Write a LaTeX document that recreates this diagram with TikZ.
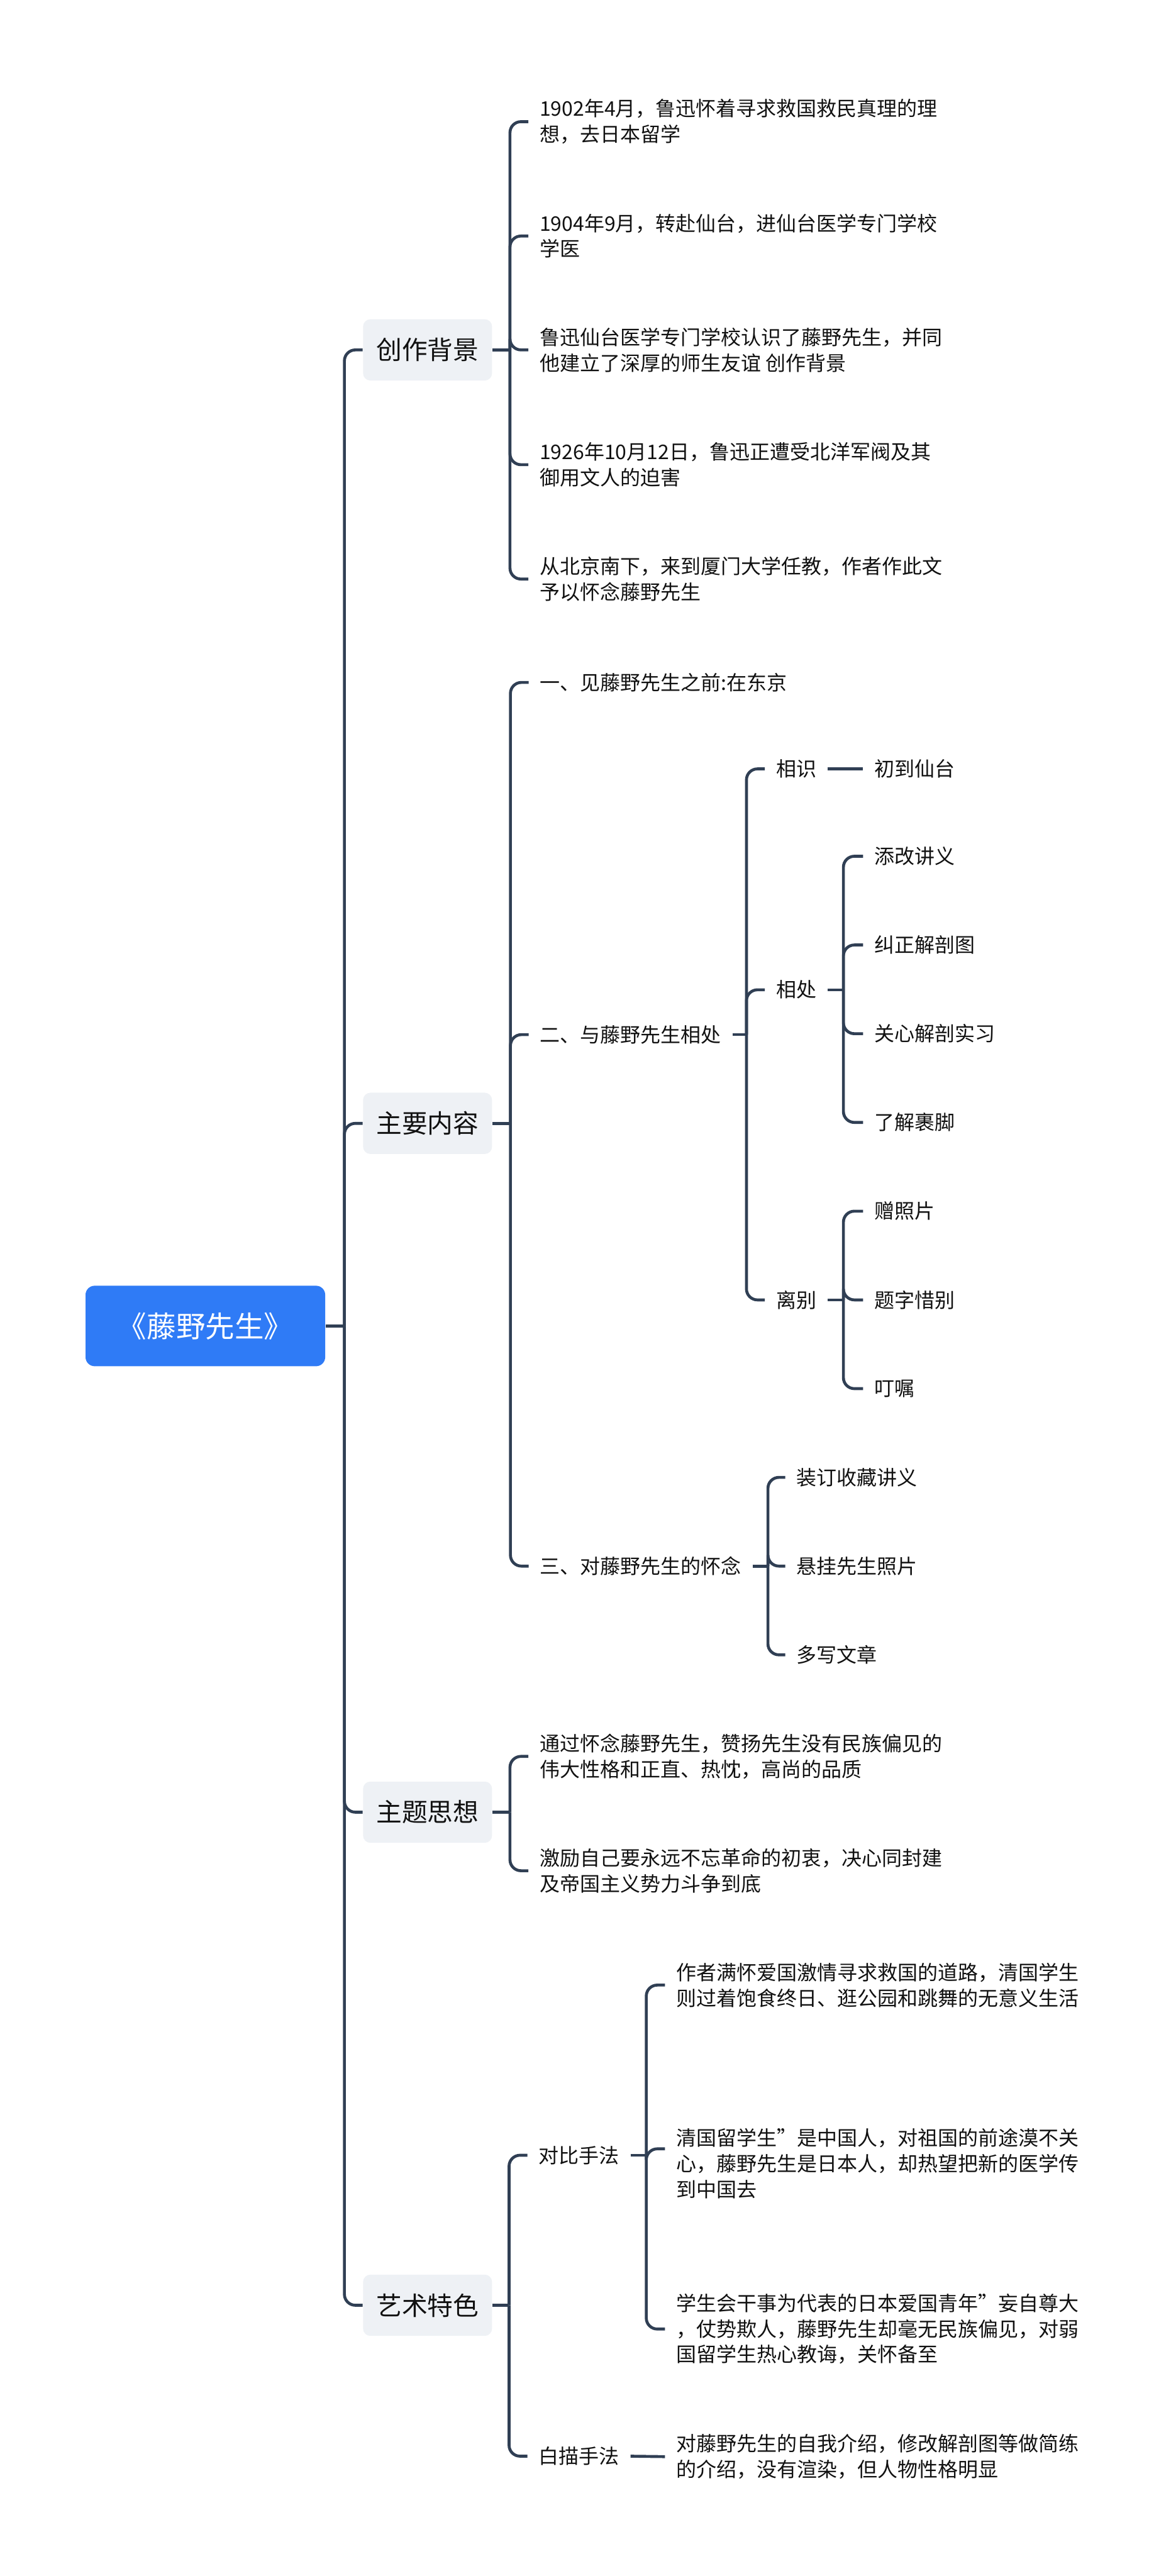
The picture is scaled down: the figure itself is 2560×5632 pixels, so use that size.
\documentclass[tikz,border=0pt]{standalone}
\usepackage{fontspec}
\setmainfont{Noto Sans CJK SC}
\definecolor{linec}{HTML}{303F54}
\definecolor{rootblue}{HTML}{2F7BF6}
\definecolor{catgrey}{HTML}{EEF1F5}
\definecolor{txt}{HTML}{111111}
\tikzset{
  conn/.style={draw=linec, line width=1.6pt, rounded corners=6pt},
  rootbox/.style={fill=rootblue, rounded corners=5pt, text=white, font=\fontsize{16pt}{20pt}\selectfont, minimum width=131pt, minimum height=44pt, inner sep=0pt},
  catbox/.style={fill=catgrey, rounded corners=4pt, text=txt, font=\fontsize{14pt}{17pt}\selectfont, minimum width=70.5pt, minimum height=33.5pt, inner sep=0pt, anchor=west},
  leaf/.style={text=txt, font=\fontsize{11pt}{14pt}\selectfont, align=left, inner xsep=6pt, inner ysep=2pt, anchor=west}
}
\begin{document}
\begin{tikzpicture}[x=0.25pt, y=-0.25pt]
\useasboundingbox (0,0) rectangle (2560,5632);
% root
\node[rootbox] (root) at (449,2899) {《藤野先生》};
\coordinate (J0) at (753,2899);
% level 1
\node[catbox] (b1) at (793,765) {创作背景};
\node[catbox] (b2) at (793,2456) {主要内容};
\node[catbox] (b3) at (793,3962) {主题思想};
\node[catbox] (b4) at (793,5040) {艺术特色};
\draw[conn] (root.east) -- (J0);
\foreach \b in {b1,b2,b3,b4} \draw[conn] (J0) |- (\b.west);
% 创作背景
\coordinate (j1) at (1115,765);
\node[leaf] (a1) at (1155,266) {1902年4月，鲁迅怀着寻求救国救民真理的理\\想，去日本留学};
\node[leaf] (a2) at (1155,516) {1904年9月，转赴仙台，进仙台医学专门学校\\学医};
\node[leaf] (a3) at (1155,765) {鲁迅仙台医学专门学校认识了藤野先生，并同\\他建立了深厚的师生友谊 创作背景};
\node[leaf] (a4) at (1155,1016) {1926年10月12日，鲁迅正遭受北洋军阀及其\\御用文人的迫害};
\node[leaf] (a5) at (1155,1266) {从北京南下，来到厦门大学任教，作者作此文\\予以怀念藤野先生};
\draw[conn] (b1.east) -- (j1);
\foreach \c in {a1,a2,a3,a4,a5} \draw[conn] (j1) |- (\c.west);
% 主要内容
\coordinate (j2) at (1116,2456);
\node[leaf] (c1) at (1156,1492) {一、见藤野先生之前:在东京};
\node[leaf] (c2) at (1156,2262) {二、与藤野先生相处};
\node[leaf] (c3) at (1156,3424) {三、对藤野先生的怀念};
\draw[conn] (b2.east) -- (j2);
\foreach \c in {c1,c2,c3} \draw[conn] (j2) |- (\c.west);
% 二
\coordinate (j3) at (1632,2262);
\node[leaf] (d1) at (1672,1681) {相识};
\node[leaf] (d2) at (1672,2164) {相处};
\node[leaf] (d3) at (1672,2842) {离别};
\draw[conn] (c2.east) -- (j3);
\foreach \c in {d1,d2,d3} \draw[conn] (j3) |- (\c.west);
\node[leaf] (e0) at (1887,1681) {初到仙台};
\draw[conn] (d1.east) -- (e0.west);
\coordinate (j4) at (1844,2164);
\node[leaf] (e1) at (1887,1872) {添改讲义};
\node[leaf] (e2) at (1887,2066) {纠正解剖图};
\node[leaf] (e3) at (1887,2260) {关心解剖实习};
\node[leaf] (e4) at (1887,2454) {了解裹脚};
\draw[conn] (d2.east) -- (j4);
\foreach \c in {e1,e2,e3,e4} \draw[conn] (j4) |- (\c.west);
\coordinate (j5) at (1844,2842);
\node[leaf] (e5) at (1887,2648) {赠照片};
\node[leaf] (e6) at (1887,2842) {题字惜别};
\node[leaf] (e7) at (1887,3036) {叮嘱};
\draw[conn] (d3.east) -- (j5);
\foreach \c in {e5,e6,e7} \draw[conn] (j5) |- (\c.west);
% 三
\coordinate (j6) at (1679,3424);
\node[leaf] (f1) at (1717,3230) {装订收藏讲义};
\node[leaf] (f2) at (1717,3424) {悬挂先生照片};
\node[leaf] (f3) at (1717,3618) {多写文章};
\draw[conn] (c3.east) -- (j6);
\foreach \c in {f1,f2,f3} \draw[conn] (j6) |- (\c.west);
% 主题思想
\coordinate (j7) at (1115,3962);
\node[leaf] (g1) at (1155,3840) {通过怀念藤野先生，赞扬先生没有民族偏见的\\伟大性格和正直、热忱，高尚的品质};
\node[leaf] (g2) at (1155,4090) {激励自己要永远不忘革命的初衷，决心同封建\\及帝国主义势力斗争到底};
\draw[conn] (b3.east) -- (j7);
\foreach \c in {g1,g2} \draw[conn] (j7) |- (\c.west);
% 艺术特色
\coordinate (j8) at (1113,5040);
\node[leaf] (h1) at (1153,4712) {对比手法};
\node[leaf] (h2) at (1153,5370) {白描手法};
\draw[conn] (b4.east) -- (j8);
\foreach \c in {h1,h2} \draw[conn] (j8) |- (\c.west);
\coordinate (j9) at (1413,4712);
\node[leaf] (i1) at (1454,4340) {作者满怀爱国激情寻求救国的道路，清国学生\\则过着饱食终日、逛公园和跳舞的无意义生活};
\node[leaf] (i2) at (1454,4730) {清国留学生”是中国人，对祖国的前途漠不关\\心，藤野先生是日本人，却热望把新的医学传\\到中国去};
\node[leaf] (i3) at (1454,5092) {学生会干事为代表的日本爱国青年”妄自尊大\\，仗势欺人，藤野先生却毫无民族偏见，对弱\\国留学生热心教诲，关怀备至};
\draw[conn] (h1.east) -- (j9);
\draw[conn] (j9) |- (i1.west);
\draw[conn] (j9) |- ([yshift=8pt]i2.west);
\draw[conn] (j9) |- (i3.west);
\node[leaf] (i4) at (1454,5371) {对藤野先生的自我介绍，修改解剖图等做简练\\的介绍，没有渲染，但人物性格明显};
\draw[conn] (h2.east) -- (i4.west);
\end{tikzpicture}
\end{document}
